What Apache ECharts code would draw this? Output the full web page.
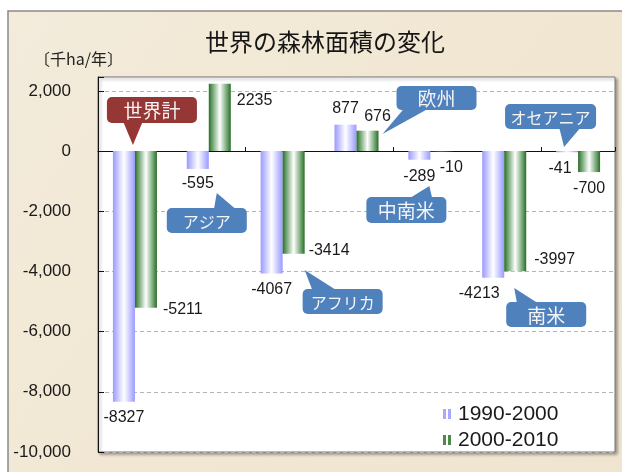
<!DOCTYPE html>
<html>
<head>
<meta charset="utf-8">
<script src="https://cdn.jsdelivr.net/npm/echarts@6/dist/echarts.min.js"></script>
<style>
html,body{margin:0;padding:0;background:#fff;}
#chart{width:622px;height:472px;}
</style>
</head>
<body>
<div id="chart"></div>
<script>
// ---- data ----
const categories = ['世界計', 'アジア', 'アフリカ', '欧州', '中南米', '南米', 'オセアニア'];
const seriesNames = ['1990-2000', '2000-2010'];
const values1990 = [-8327, -595, -4067, 877, -289, -4213, -41];
const values2000 = [-5211, 2235, -3414, 676, -10, -3997, -700];
const yTickValues = [-10000, -8000, -6000, -4000, -2000, 0, 2000];
const unitLabel = '〔千ha/年〕';
const titleText = '世界の森林面積の変化';

// ---- styles / layout ----
const labelPlace1990 = [
  {position: 'bottom', distance: 8},
  {position: 'bottom', distance: 7},
  {position: 'bottom', distance: 8},
  {position: 'top', distance: 8},
  {position: 'bottom', distance: 9},
  {position: 'bottom', distance: 8, offset: [-14, 0]},
  {position: 'bottom', distance: 8, offset: [-7, 0]}
];
const labelPlace2000 = [
  {position: ['100%', '100%'], align: 'left', verticalAlign: 'middle', offset: [6, 2]},
  {position: ['100%', 0], align: 'left', verticalAlign: 'middle', offset: [6, 17]},
  {position: ['100%', '100%'], align: 'left', verticalAlign: 'middle', offset: [4, -3]},
  {position: 'top', distance: 6, offset: [10, 0]},
  {position: 'bottom', distance: 8, offset: [10, 0]},
  {position: ['100%', '100%'], align: 'left', verticalAlign: 'middle', offset: [8, -12]},
  {position: 'bottom', distance: 8}
];
// callout geometry relative to (category centre, value 0): box [dx, dy, w, h], tip [dx, dy], base [x1, x2]
const calloutLayout = [
  {box: [-28, -54, 90, 26], tip: [-2, -6], base: [-12, 8], color: '#953735', size: 19},
  {box: [-42, 57, 80, 25], tip: [8, 42], base: [5, 28], color: '#4f81bd', size: 16},
  {box: [20, 138, 80, 25], tip: [22, 119], base: [30, 55], color: '#4f81bd', size: 16},
  {box: [40, -65, 80, 24], tip: [26, -17], base: [48, 73], color: '#4f81bd', size: 19},
  {box: [-64, 46, 80, 26], tip: [-1, 35], base: [-22, 2], color: '#4f81bd', size: 19},
  {box: [2, 151, 80, 25], tip: [10, 137], base: [13, 35], color: '#4f81bd', size: 19},
  {box: [-73, -47, 91, 25], tip: [-14, -4], base: [-19, 3], color: '#4f81bd', size: 16}
];

const blueGrad = new echarts.graphic.LinearGradient(0, 0, 1, 0, [
  {offset: 0, color: '#9a9aff'}, {offset: 0.15, color: '#b8b8ff'},
  {offset: 0.5, color: '#ffffff'}, {offset: 0.85, color: '#b8b8ff'}, {offset: 1, color: '#9a9aff'}
]);
const greenGrad = new echarts.graphic.LinearGradient(0, 0, 1, 0, [
  {offset: 0, color: '#2a6b2a'}, {offset: 0.12, color: '#5a955a'},
  {offset: 0.5, color: '#ffffff'}, {offset: 0.88, color: '#5a955a'}, {offset: 1, color: '#2a6b2a'}
]);

const numFont = 'Liberation Sans, Arial, sans-serif';
const jpFont = '"Noto Sans CJK JP", sans-serif';

function barData(vals, places) {
  return vals.map((v, i) => ({
    value: v,
    label: Object.assign({show: true}, places[i])
  }));
}

const chart = echarts.init(document.getElementById('chart'), null, {renderer: 'canvas'});

chart.setOption({
  backgroundColor: '#ffffff',
  animation: false,
  graphic: {
    elements: [{
      type: 'rect', z: -100, silent: true,
      shape: {x: 8, y: 11, width: 640, height: 480},
      style: {
        fill: new echarts.graphic.LinearGradient(0, 0, 1, 1, [
          {offset: 0, color: '#f3ebdb'}, {offset: 0.5, color: '#f1e7d3'}, {offset: 1, color: '#efe4cf'}
        ]),
        stroke: '#8a8a8a', lineWidth: 1.5
      }
    }]
  },
  title: [
    {text: titleText, left: 205, top: 30, padding: 0,
     textStyle: {fontFamily: jpFont, fontSize: 24, fontWeight: 'normal', color: '#151515'}},
    {text: unitLabel, left: 34, top: 51, padding: 0,
     textStyle: {fontFamily: jpFont, fontSize: 16, fontWeight: 'normal', color: '#222'}}
  ],
  legend: {
    orient: 'vertical', left: 438, top: 398, itemGap: 4,
    itemWidth: 8, itemHeight: 10,
    icon: 'path://M0,0H3V10H0Z M5,0H8V10H5Z',
    textStyle: {fontFamily: numFont, fontSize: 21, color: '#1a1a1a', lineHeight: 22, padding: [0, 0, 0, 2]},
    data: [
      {name: seriesNames[0], itemStyle: {color: '#a8a8ff'}},
      {name: seriesNames[1], itemStyle: {color: '#4b8a4b'}}
    ]
  },
  grid: {
    left: 98, right: 7, top: 77, bottom: 20,
    show: true, backgroundColor: '#ffffff', borderColor: '#7a7a7a', borderWidth: 1,
    shadowColor: 'rgba(0,0,0,0.35)', shadowBlur: 3, shadowOffsetX: 2, shadowOffsetY: 2
  },
  xAxis: {
    type: 'category', data: categories,
    axisLine: {onZero: true, lineStyle: {color: '#111', width: 1}},
    axisTick: {show: true, inside: true, length: 4, lineStyle: {color: '#111'}},
    axisLabel: {show: false},
    splitLine: {show: false}
  },
  yAxis: {
    type: 'value', min: yTickValues[0], max: 2460, interval: 2000,
    axisLine: {show: true, lineStyle: {color: '#111', width: 1}},
    axisTick: {show: true, inside: true, length: 6, lineStyle: {color: '#111'}},
    axisLabel: {
      margin: 27, fontFamily: numFont, fontSize: 17, color: '#1a1a1a',
      formatter: v => (yTickValues.indexOf(v) >= 0 ? v.toLocaleString('en-US') : '')
    },
    splitLine: {show: true, lineStyle: {color: '#b5b5b5', type: [4, 3], width: 1}}
  },
  series: [
    {
      name: seriesNames[0], type: 'bar', barWidth: 22, barGap: '0%',
      itemStyle: {color: blueGrad},
      label: {fontFamily: numFont, fontSize: 16, color: '#1a1a1a'},
      data: barData(values1990, labelPlace1990)
    },
    {
      name: seriesNames[1], type: 'bar', barWidth: 22, barGap: '0%',
      itemStyle: {color: greenGrad},
      label: {fontFamily: numFont, fontSize: 16, color: '#1a1a1a'},
      data: barData(values2000, labelPlace2000)
    },
    {
      name: 'callouts', type: 'custom', z: 10, silent: true,
      encode: {x: 0, y: 1},
      data: categories.map((c, i) => ({value: [i, 0], name: c})),
      renderItem: function (params, api) {
        const i = params.dataIndex;
        const L = calloutLayout[i];
        const p = api.coord([api.value(0), 0]);
        const cx = p[0], cy = p[1];
        const bx = cx + L.box[0], by = cy + L.box[1], bw = L.box[2], bh = L.box[3];
        const tip = [cx + L.tip[0], cy + L.tip[1]];
        const above = L.tip[1] < L.box[1];
        const edgeY = above ? by + 2 : by + bh - 2;
        return {
          type: 'group',
          children: [
            {type: 'polygon', shape: {points: [[cx + L.base[0], edgeY], [cx + L.base[1], edgeY], tip]},
             style: {fill: L.color}},
            {type: 'rect', shape: {x: bx, y: by, width: bw, height: bh, r: 5},
             style: {fill: L.color}},
            {type: 'text', style: {
              text: categories[i], x: bx + bw / 2, y: by + bh / 2 + 1,
              align: 'center', verticalAlign: 'middle',
              fill: '#f4f4f4', fontFamily: jpFont, fontSize: L.size
            }}
          ]
        };
      }
    }
  ]
});
</script>
</body>
</html>
